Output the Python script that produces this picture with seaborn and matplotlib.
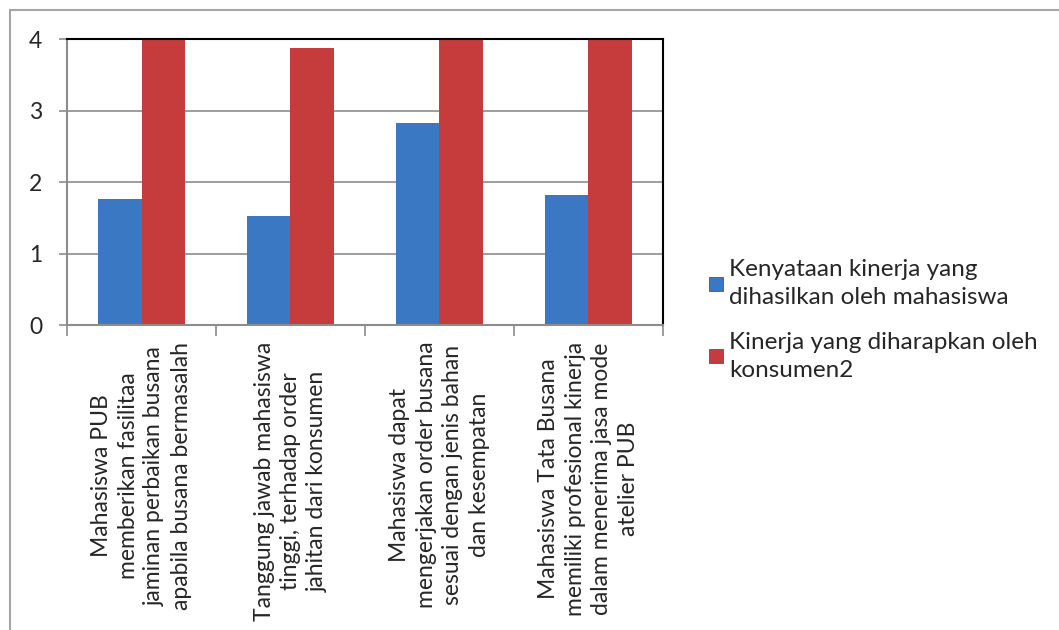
import pandas as pd
import numpy as np
import matplotlib
matplotlib.use("Agg")
import matplotlib.pyplot as plt
import seaborn as sns
from matplotlib.lines import Line2D

sns.set_style("white")
plt.rcParams["font.family"] = ["Lato", "DejaVu Sans"]

# ==========================
# DATA
# ==========================

kategori = [
    "Mahasiswa PUB\nmemberikan fasilitaa\njaminan perbaikan busana\napabila busana bermasalah",
    "Tanggung jawab mahasiswa\ntinggi, terhadap order\njahitan dari konsumen",
    "Mahasiswa dapat\nmengerjakan order busana\nsesuai dengan jenis bahan\ndan kesempatan",
    "Mahasiswa Tata Busana\nmemiliki profesional kinerja\ndalam menerima jasa mode\natelier PUB",
]
seri = [
    "Kenyataan kinerja yang\ndihasilkan oleh mahasiswa",
    "Kinerja yang diharapkan oleh\nkonsumen2",
]
kenyataan = [1.76, 1.52, 2.83, 1.82]
harapan = [4.0, 3.87, 4.0, 4.0]
warna = ["#3b78c3", "#c63b3b"]

df = pd.DataFrame({
    "kategori": kategori * 2,
    "nilai": kenyataan + harapan,
    "seri": [seri[0]] * 4 + [seri[1]] * 4,
})

# ==========================
# PLOT
# ==========================

fig = plt.figure(figsize=(10.59, 6.30), dpi=100)
ax = fig.add_axes([0.0633, 0.484, 0.5627, 0.454])

sns.barplot(data=df, x="kategori", y="nilai", hue="seri",
            palette=warna, width=0.58, gap=0, saturation=1,
            edgecolor="none", ax=ax, legend=False)

ax.set_xlim(-0.5, 3.5)
ax.set_ylim(0, 4)
ax.set_yticks([0, 1, 2, 3, 4])
ax.set_ylabel("")
ax.set_xlabel("")
ax.yaxis.grid(True, color="#8c8c8c", linewidth=1.2)
ax.set_axisbelow(True)

for s in ["left", "bottom"]:
    ax.spines[s].set_color("#8c8c8c")
    ax.spines[s].set_linewidth(1.5)
for s in ["top", "right"]:
    ax.spines[s].set_color("black")
    ax.spines[s].set_linewidth(1.5)

ax.tick_params(axis="y", length=6, width=1.2, color="#8c8c8c",
               labelsize=16.5, pad=12, left=True)
ax.set_xticks(np.arange(len(kategori)))
ax.set_xticks(np.arange(-0.5, len(kategori), 1.0), minor=True)
ax.tick_params(axis="x", which="major", length=0, pad=12)
ax.tick_params(axis="x", which="minor", length=8, width=1.2,
               color="#8c8c8c", bottom=True)
ax.set_xticklabels(kategori, rotation=90, fontsize=16.5,
                   ha="center", va="top", multialignment="center",
                   linespacing=1.32)

handles = [Line2D([0], [0], marker="s", linestyle="none", markersize=10,
                  markerfacecolor=c, markeredgecolor="#555555",
                  markeredgewidth=0.6) for c in warna]
leg = fig.legend(handles, seri, loc="center left", bbox_to_anchor=(0.647, 0.492),
                 frameon=False, handlelength=0.7, handletextpad=0.2,
                 labelspacing=0.95, prop={"size": 17.5})
for t in leg.get_texts():
    t.set_linespacing(1.45)

# chart-area border (left and top)
fig.add_artist(Line2D([10 / 1059, 10 / 1059], [0, 1 - 10 / 630],
                      transform=fig.transFigure, color="#a6a6a6", linewidth=1.5))
fig.add_artist(Line2D([10 / 1059, 1], [1 - 10 / 630, 1 - 10 / 630],
                      transform=fig.transFigure, color="#a6a6a6", linewidth=1.5))

fig.savefig("out.png", dpi=100)
